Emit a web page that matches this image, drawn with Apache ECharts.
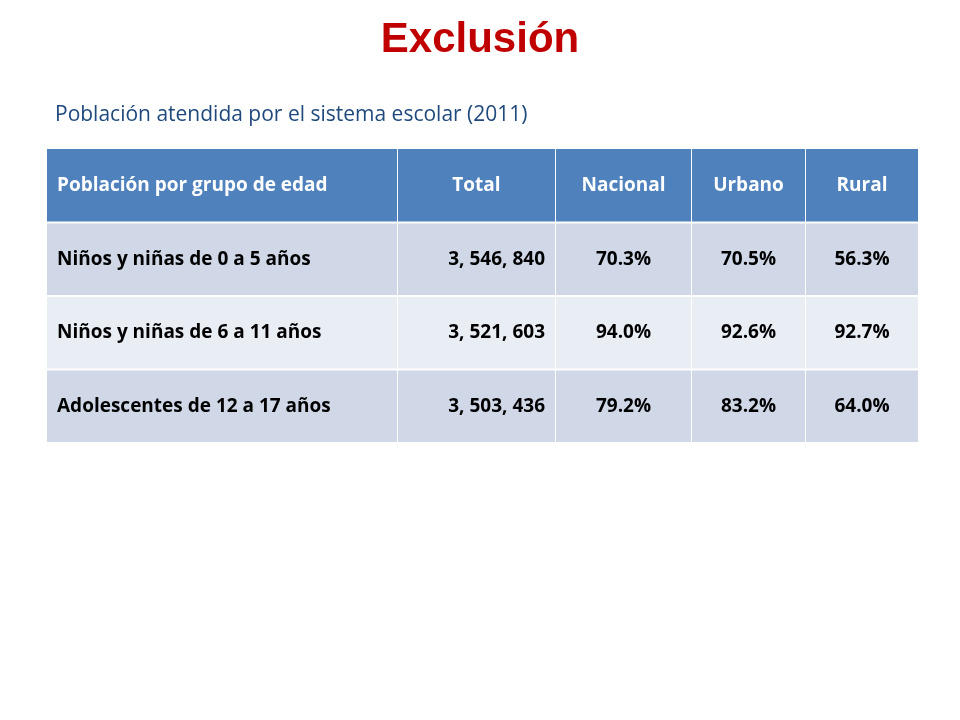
<!DOCTYPE html>
<html><head><meta charset="utf-8">
<script src="https://cdn.jsdelivr.net/npm/echarts@6/dist/echarts.min.js"></script>
<style>html,body{margin:0;padding:0;background:#fff}#c{width:960px;height:720px}</style>
</head><body><div id="c"></div>
<script>
const headers = ["Población por grupo de edad","Total","Nacional","Urbano","Rural"];
const groups = ["Niños y niñas de 0 a 5 años","Niños y niñas de 6 a 11 años","Adolescentes de 12 a 17 años"];
const totals = ["3, 546, 840","3, 521, 603","3, 503, 436"];
const nacional = ["70.3%","94.0%","79.2%"];
const urbano = ["70.5%","92.6%","83.2%"];
const rural = ["56.3%","92.7%","64.0%"];

const colEdges = [0,350,508,644,758,871];
const rowsText = [headers];
groups.forEach((g,i)=>rowsText.push([g,totals[i],nacional[i],urbano[i],rural[i]]));
const data = [];
rowsText.forEach((r,ri)=>r.forEach((t,ci)=>data.push([ci,ri,t])));

const chart = echarts.init(document.getElementById('c'));
chart.setOption({
  backgroundColor:'#fff',
  title:[
    {text:'Exclusión',left:'center',top:14,textStyle:{color:'#C00000',fontSize:42,fontWeight:'bold',fontFamily:'Liberation Sans'}},
    {text:'Población atendida por el sistema escolar (2011)',left:50,top:100,textStyle:{color:'#1F497D',fontSize:21,fontWeight:'normal',fontFamily:'Open Sans'}}
  ],
  grid:{left:47,top:149,width:871,height:294},
  xAxis:{type:'value',min:0,max:871,show:false},
  yAxis:{type:'category',data:[0,1,2,3],inverse:true,show:false},
  series:[{
    type:'custom',
    data:data,
    renderItem:function(params,api){
      const ci=api.value(0), ri=api.value(1), txt=rowsText[ri][ci];
      const bh=api.size([0,1])[1];
      const p0=api.coord([colEdges[ci],ri]);
      const p1=api.coord([colEdges[ci+1],ri]);
      const x=p0[0]+(ci>0?1:0), w=p1[0]-p0[0]-(ci>0?1:0);
      const y=p0[1]-bh/2+(ri>0?1:0), h=bh-(ri>0?1:0)-1;
      const fill = ri===0?'#4F81BD':(ri%2===1?'#D0D8E8':'#E9EDF4');
      let align='center', tx=x+w/2;
      if(ci===0){align='left';tx=x+10;}
      if(ci===1&&ri>0){align='right';tx=x+w-10;}
      return {type:'group',children:[
        {type:'rect',shape:{x:x,y:y,width:w,height:h},style:{fill:fill}},
        {type:'text',style:{text:txt,x:tx,y:y+h/2,align:align,verticalAlign:'middle',
          fill:ri===0?'#fff':'#000',font:'bold 19px "Open Sans", sans-serif'}}
      ]};
    }
  }]
});
</script></body></html>
